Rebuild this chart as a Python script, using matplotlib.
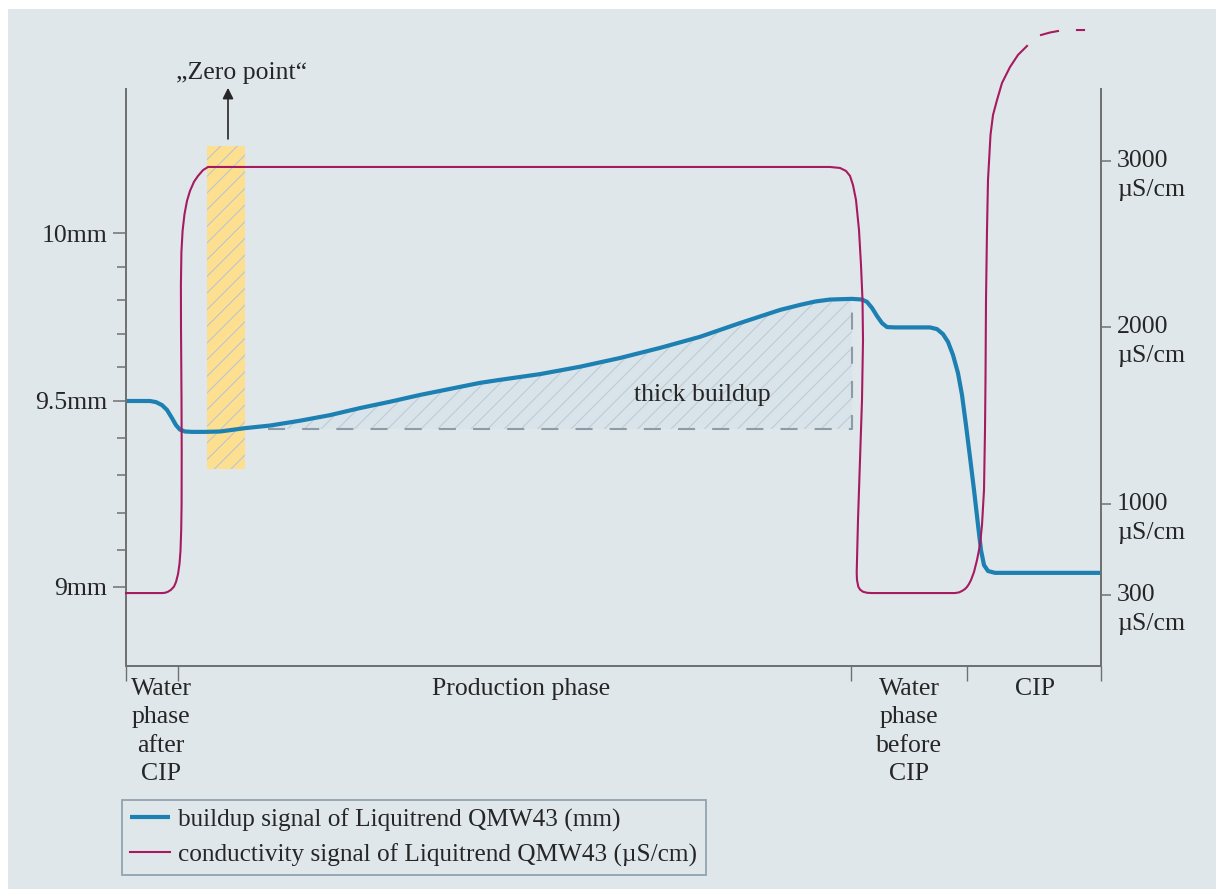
import numpy as np
import matplotlib
matplotlib.use('Agg')
from matplotlib import pyplot as plt
from matplotlib.patches import Rectangle
from matplotlib.transforms import offset_copy

plt.rcParams['font.family'] = ['Liberation Serif', 'DejaVu Serif']
plt.rcParams['hatch.linewidth'] = 0.8

# --- данные (время в условных единицах) ---
# сигнал налипания, мм
t_build = [0, 24, 30, 36, 41, 46, 50, 54, 59, 66, 79, 94, 119, 144, 174, 204, 234, 264,
           294, 324, 354, 374, 414, 454, 494, 534, 574, 614, 654, 674, 689, 704, 726,
           736, 741, 746, 751, 756, 761, 769, 804, 811, 817, 822, 827, 832, 836, 840,
           844, 848, 852, 855, 858, 862, 869, 975]
buildup = [9.500, 9.500, 9.497, 9.489, 9.476, 9.454, 9.435, 9.423, 9.418, 9.417, 9.417,
           9.418, 9.427, 9.434, 9.447, 9.462, 9.481, 9.498, 9.518, 9.536, 9.554, 9.563,
           9.580, 9.602, 9.628, 9.658, 9.691, 9.732, 9.771, 9.786, 9.796, 9.802, 9.804,
           9.802, 9.795, 9.777, 9.753, 9.732, 9.720, 9.719, 9.719, 9.714, 9.699, 9.676,
           9.637, 9.583, 9.518, 9.435, 9.349, 9.261, 9.167, 9.099, 9.059, 9.043, 9.038,
           9.038]

# сигнал проводимости, мкСм/см
t_cond = [0, 36, 39, 42, 45, 48, 50, 52, 53.5, 54.5, 55.2, 55.6, 55.7, 55.5, 55.0, 54.9,
          55.4, 56.6, 58.5, 61, 64, 68, 72, 77, 82,
          704, 714, 720, 724, 727, 730, 733, 735, 736.5, 737, 736, 734, 732, 731, 730.7,
          731, 732.3, 734, 737, 741, 746,
          829, 833, 836, 839, 841, 843, 845, 848, 851, 854, 856, 858, 859, 859.5, 860,
          861, 862, 864.5, 867, 871, 876, 884, 892, 901]
cond = [315, 315, 317, 325, 340, 365, 400, 460, 540, 640, 800, 1000, 1300, 1600, 2000,
        2250, 2450, 2580, 2680, 2760, 2820, 2875, 2910, 2945, 2964,
        2964, 2958, 2940, 2910, 2855, 2765, 2584, 2373, 2163, 1927, 1588, 1249, 877, 569,
        469, 415, 364, 342, 325, 317, 315,
        315, 320, 331, 346, 362, 385, 415, 477, 569, 685, 838, 1079, 1418, 1701, 2163,
        2584, 2886, 3157, 3277, 3367, 3470, 3566, 3639, 3693]
# продолжение (штрихами)
t_tail = [915, 924, 932, np.nan, 951, 958]
cond_tail = [3759, 3774, 3783, np.nan, 3789, 3789]

# фазы процесса
phase_edges = [0, 52, 725, 841, 975]
phase_pos = [35, 395, 783, 909]
phase_names = ['Water\nphase\nafter\nCIP', 'Production phase',
               'Water\nphase\nbefore\nCIP', 'CIP']

mm_ticks = [9.0, 9.5, 10.0]
mm_labels = ['9mm', '9.5mm', '10mm']
mm_minor = [9.1, 9.2, 9.3, 9.4, 9.6, 9.7, 9.8, 9.9]
cond_ticks = [300, 1000, 2000, 3000]

zero_span = (80.7, 119, 9.317, 10.259)   # "нулевая точка"
thick_base = 9.425

BLUE = '#1c80b2'
MAG = '#a61a60'
BG = '#e0e7eb'
TXT = '#262626'
SP = '#707070'
FS = 18.5


# схематичная (кусочно-линейная) шкала осей
def piecewise(xp, fp):
    xp = np.asarray(xp, float)
    fp = np.asarray(fp, float)
    s0 = (fp[1] - fp[0]) / (xp[1] - xp[0])
    s1 = (fp[-1] - fp[-2]) / (xp[-1] - xp[-2])

    def f(v):
        v = np.asarray(v, float)
        out = np.interp(v, xp, fp)
        out = np.where(v < xp[0], fp[0] + (v - xp[0]) * s0, out)
        out = np.where(v > xp[-1], fp[-1] + (v - xp[-1]) * s1, out)
        return out
    return f


mm_px = [0, 186, 354]
cond_px = [0, 91, 268, 434]

fig = plt.figure(figsize=(12.16, 8.89), dpi=100, facecolor='white')
fig.add_artist(Rectangle((8 / 1216, 0), 1, 880 / 889, transform=fig.transFigure,
                         facecolor=BG, edgecolor='none', zorder=-10))

ax = fig.add_axes([126 / 1216, 1 - 665.7 / 889, 975 / 1216, 576.7 / 889])
ax.patch.set_visible(False)
ax.set_yscale('function', functions=(piecewise(mm_ticks, mm_px), piecewise(mm_px, mm_ticks)))
ax.set_xlim(0, 975)
ax.set_ylim(8.7884, 10.4286)

ax2 = ax.twinx()
ax2.set_yscale('function', functions=(piecewise(cond_ticks, cond_px), piecewise(cond_px, cond_ticks)))
ax2.set_ylim(-243.8, 3433.7)

for a in (ax, ax2):
    a.spines['top'].set_visible(False)
    for s in ('left', 'right', 'bottom'):
        a.spines[s].set_color(SP)
        a.spines[s].set_linewidth(1.3)

# нулевая точка
ax.fill_between(zero_span[:2], zero_span[2], zero_span[3], facecolor='#fde08f',
                edgecolor='#bcc6d0', hatch='//', linewidth=0, zorder=1)
ax.annotate('', xy=(102, 10.432), xytext=(102, 10.28), annotation_clip=False,
            arrowprops=dict(arrowstyle='-|>', color=TXT, lw=1.2,
                            mutation_scale=16, shrinkA=0, shrinkB=0))
ax.text(116, 10.476, '„Zero point“', ha='center', va='center', fontsize=FS,
        color=TXT, clip_on=False)

# толстое налипание
tb = np.array(t_build)
ax.fill_between(t_build, thick_base, buildup, where=(tb >= 119) & (tb <= 726),
                facecolor='#d9e3ea', edgecolor='#bfcad2', hatch='//', linewidth=0, zorder=1)
ax.plot([142, 726, 726], [thick_base, thick_base, 9.804], color='#8c9ca7', lw=1.5,
        dashes=(8.2, 8.2), zorder=2)
ax.text(576, 9.518, 'thick buildup', ha='center', va='center', fontsize=FS, color=TXT)

# кривые
l1, = ax.plot(t_build, buildup, color=BLUE, lw=3, solid_capstyle='butt', zorder=4,
              label='buildup signal of Liquitrend QMW43 (mm)')
l2, = ax2.plot(t_cond, cond, color=MAG, lw=1.5, clip_on=False, zorder=3,
               label='conductivity signal of Liquitrend QMW43 (µS/cm)')
ax2.plot(t_tail, cond_tail, color=MAG, lw=1.5, clip_on=False, zorder=3)

# оси
ax.set_yticks(mm_ticks, labels=mm_labels)
ax.set_yticks(mm_minor, minor=True)
ax.tick_params(axis='y', which='major', length=9.5, width=1.1, color=SP, pad=4,
               labelsize=FS, labelcolor=TXT)
ax.tick_params(axis='y', which='minor', length=6.5, width=1.1, color=SP)

ax.set_xticks(phase_edges, labels=[''] * len(phase_edges))
ax.set_xticks(phase_pos, labels=phase_names, minor=True)
ax.tick_params(axis='x', which='major', length=10.8, width=1.0, color=SP)
ax.tick_params(axis='x', which='minor', length=0, pad=8.5, labelsize=FS, labelcolor=TXT)
for lab in ax.get_xticklabels(minor=True):
    lab.set_linespacing(1.39)

ax2.set_yticks(cond_ticks, labels=[''] * len(cond_ticks))
ax2.tick_params(axis='y', which='major', length=7, width=1.1, color=SP)
ax2.yaxis.set_minor_locator(plt.NullLocator())
tr = ax2.get_yaxis_transform()
for v in cond_ticks:
    ax2.text(1.0164, v, str(v), transform=tr, ha='left', va='center', fontsize=FS, color=TXT)
    ax2.text(1.0164, v, 'µS/cm', transform=offset_copy(tr, fig=fig, y=-29, units='dots'),
             ha='left', va='center', fontsize=FS, color=TXT)

# легенда
leg = fig.legend(handles=[l1, l2], loc='upper left', bbox_to_anchor=(122 / 1216, 1 - 800 / 889),
                 fontsize=18.2, frameon=True, fancybox=False, framealpha=1,
                 facecolor=BG, edgecolor='#8fa3b0', handlelength=1.55,
                 handletextpad=0.35, labelspacing=0.45, borderpad=0.33, borderaxespad=0)
leg.get_frame().set_linewidth(1.3)
for t in leg.get_texts():
    t.set_color(TXT)

plt.savefig('out.png', dpi=100, facecolor=fig.get_facecolor())
